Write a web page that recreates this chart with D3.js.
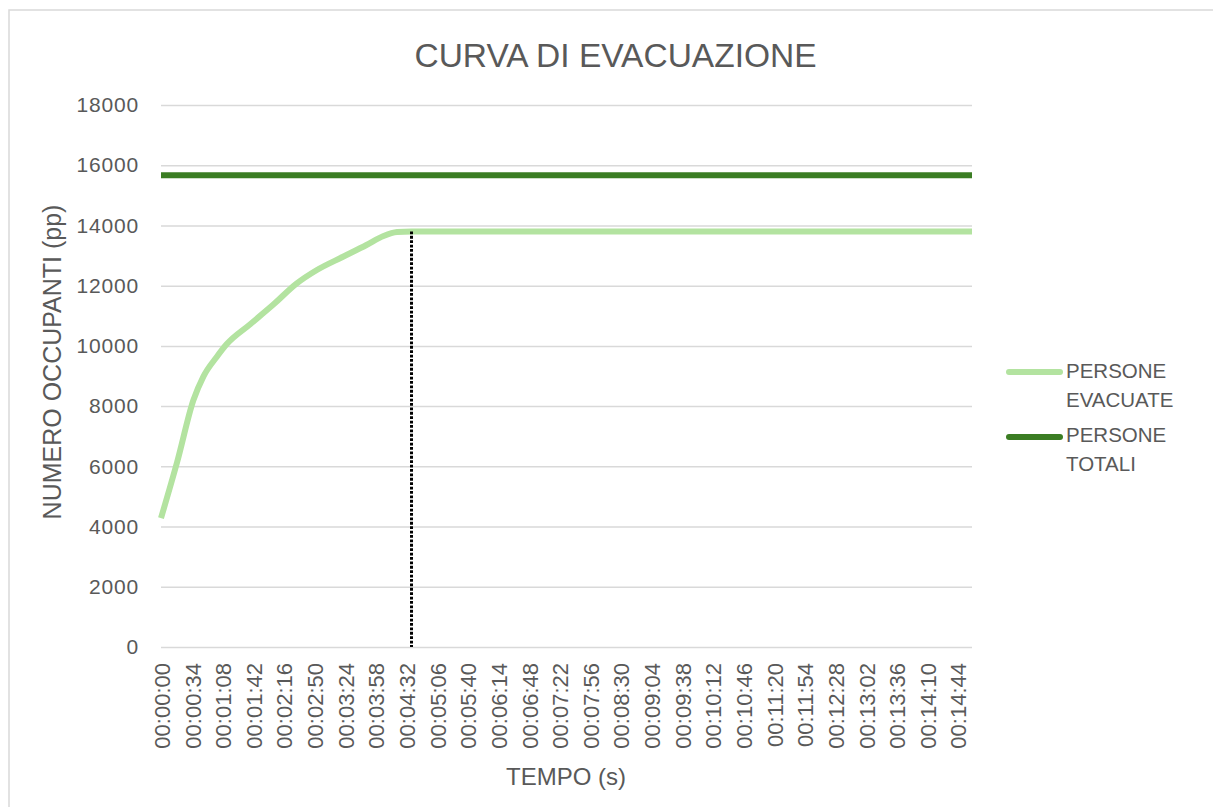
<!DOCTYPE html>
<html>
<head>
<meta charset="utf-8">
<script src="https://cdn.jsdelivr.net/npm/d3@7"></script>
<style>
  html, body { margin: 0; padding: 0; background: #ffffff; }
  svg { display: block; font-family: "Liberation Sans", Arial, sans-serif; }
</style>
</head>
<body>
<svg id="chart" width="1213" height="807"></svg>
<script>
// Evacuation curve: seconds since alarm vs. people already out
const evacTimes  = [0, 18, 36, 47, 62, 73, 99, 125, 150, 173, 202, 228, 247, 262, 278, 900];
const evacValues = [4280, 6150, 8200, 8980, 9640, 10060, 10720, 11380, 12060, 12520, 12960, 13350, 13650, 13780, 13800, 13800];

// Total occupants of the building
const totalPeople = 15670;

// Category labels shown on the time axis
const timeLabels = [
  "00:00:00", "00:00:34", "00:01:08", "00:01:42", "00:02:16", "00:02:50", "00:03:24",
  "00:03:58", "00:04:32", "00:05:06", "00:05:40", "00:06:14", "00:06:48", "00:07:22",
  "00:07:56", "00:08:30", "00:09:04", "00:09:38", "00:10:12", "00:10:46", "00:11:20",
  "00:11:54", "00:12:28", "00:13:02", "00:13:36", "00:14:10", "00:14:44"
];
const yTicks = [0, 2000, 4000, 6000, 8000, 10000, 12000, 14000, 16000, 18000];

const seriesNames = ["PERSONE EVACUATE", "PERSONE TOTALI"];
const seriesColors = ["#b3e3a0", "#3b7d23"];

const textColor = "#595959";
const gridColor = "#d9d9d9";

const svg = d3.select("#chart");
const plot = { left: 161, right: 972, top: 105, bottom: 647 };

const x = d3.scaleLinear().domain(d3.extent(evacTimes)).range([plot.left, plot.right]);
const y = d3.scaleLinear().domain([0, d3.max(yTicks)]).range([plot.bottom, plot.top]);

const toSeconds = s => { const [h, m, sec] = s.split(":").map(Number); return h * 3600 + m * 60 + sec; };

// outer chart frame
svg.append("rect")
  .attr("x", 9).attr("y", 10).attr("width", 1240).attr("height", 840)
  .attr("fill", "#ffffff").attr("stroke", gridColor).attr("stroke-width", 1.5);

// title
svg.append("text")
  .attr("x", 615.5).attr("y", 67)
  .attr("text-anchor", "middle")
  .attr("fill", textColor)
  .style("font-size", "33.5px")
  .text("CURVA DI EVACUAZIONE");

// horizontal gridlines + value labels
const yAxis = d3.axisLeft(y).tickValues(yTicks).tickSize(-(plot.right - plot.left)).tickPadding(22).tickFormat(d3.format("d"));
const gy = svg.append("g").attr("transform", `translate(${plot.left},0)`).call(yAxis);
gy.select(".domain").remove();
gy.selectAll(".tick line").attr("stroke", gridColor).attr("stroke-width", 1.5);
gy.selectAll(".tick text")
  .attr("fill", textColor)
  .style("font-size", "21px")
  .style("letter-spacing", "0.8px")
  .style("font-family", "'Liberation Sans', Arial, sans-serif");

// time axis labels, rotated
const xAxis = d3.axisBottom(x)
  .tickValues(timeLabels.map(toSeconds))
  .tickSize(0)
  .tickFormat((d, i) => timeLabels[i]);
const gx = svg.append("g").attr("transform", `translate(0,${plot.bottom})`).call(xAxis);
gx.select(".domain").remove();
gx.selectAll(".tick text")
  .attr("fill", textColor)
  .style("font-size", "22px")
  .style("font-family", "'Liberation Sans', Arial, sans-serif")
  .attr("text-anchor", "end")
  .attr("transform", "rotate(-90)")
  .attr("x", -16).attr("y", 0).attr("dy", "0.38em");

// axis titles
svg.append("text")
  .attr("transform", "translate(61,362) rotate(-90)")
  .attr("text-anchor", "middle")
  .attr("fill", textColor)
  .style("font-size", "25px")
  .text("NUMERO OCCUPANTI (pp)");

svg.append("text")
  .attr("x", 566).attr("y", 785)
  .attr("text-anchor", "middle")
  .attr("fill", textColor)
  .style("font-size", "24px")
  .text("TEMPO (s)");

// total occupants line
const timeDomain = x.domain();
svg.append("line")
  .attr("x1", x(timeDomain[0])).attr("x2", x(timeDomain[1]))
  .attr("y1", y(totalPeople)).attr("y2", y(totalPeople))
  .attr("stroke", seriesColors[1]).attr("stroke-width", 6);

// evacuated people curve
const evacData = evacTimes.map((t, i) => ({ t, v: evacValues[i] }));
const line = d3.line().x(d => x(d.t)).y(d => y(d.v)).curve(d3.curveMonotoneX);
svg.append("path")
  .datum(evacData)
  .attr("d", line)
  .attr("fill", "none")
  .attr("stroke", seriesColors[0])
  .attr("stroke-width", 6)
  .attr("stroke-linejoin", "round");

// marker of the evacuation end: first time the curve reaches its maximum
const maxEvac = d3.max(evacValues);
const endTime = evacTimes[evacValues.indexOf(maxEvac)];
svg.append("line")
  .attr("x1", x(endTime)).attr("x2", x(endTime))
  .attr("y1", y(maxEvac)).attr("y2", y(0))
  .attr("stroke", "#000000").attr("stroke-width", 3)
  .attr("stroke-dasharray", "2.8 1.6");

// legend
const legendRows = [
  { lines: ["PERSONE", "EVACUATE"], lineY: 372, textY: 378 },
  { lines: ["PERSONE", "TOTALI"], lineY: 437, textY: 442 }
];
const legend = svg.append("g");
legendRows.forEach((row, i) => {
  legend.append("line")
    .attr("x1", 1009).attr("x2", 1060)
    .attr("y1", row.lineY).attr("y2", row.lineY)
    .attr("stroke", seriesColors[i]).attr("stroke-width", 6)
    .attr("stroke-linecap", "round");
  const t = legend.append("text")
    .attr("x", 1066).attr("y", row.textY)
    .attr("fill", textColor)
    .style("font-size", "20.5px");
  row.lines.forEach((s, k) => {
    t.append("tspan").attr("x", 1066).attr("dy", k === 0 ? 0 : 29).text(s);
  });
});
</script>
</body>
</html>
